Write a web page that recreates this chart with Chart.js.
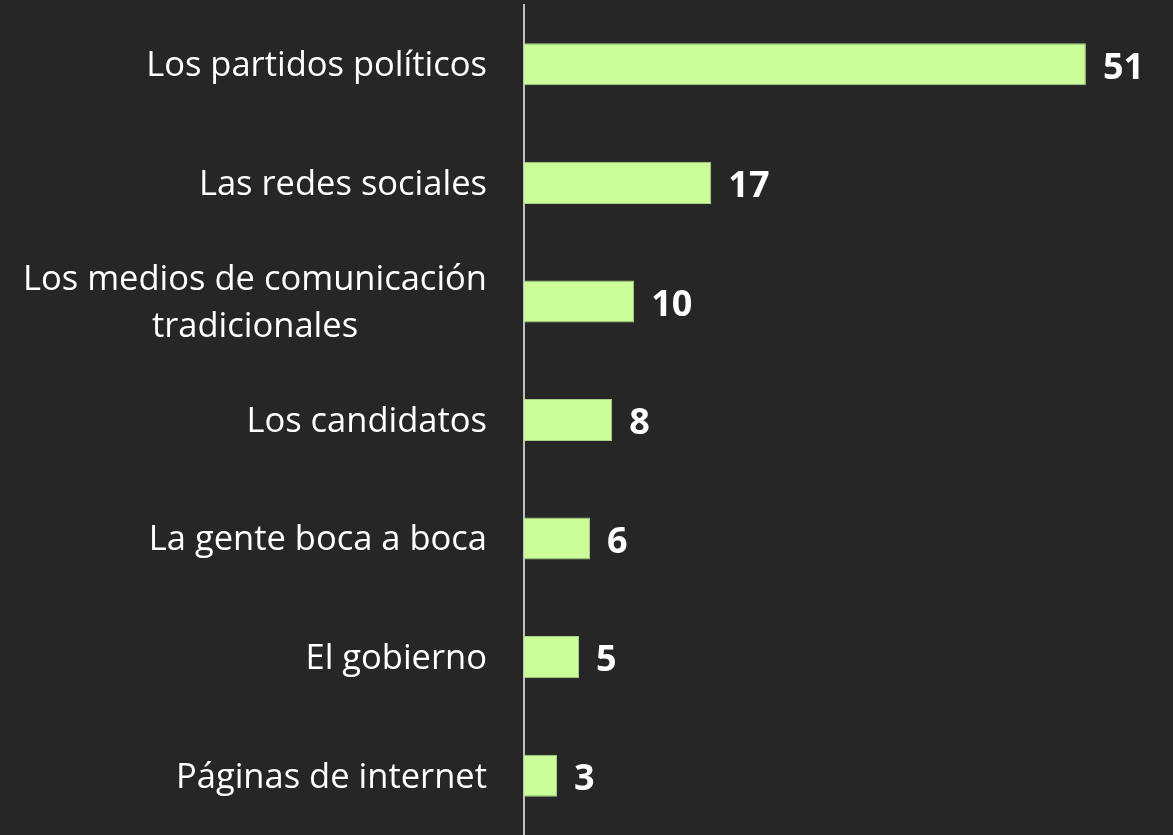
<!DOCTYPE html>
<html>
<head>
<meta charset="utf-8">
<script src="https://cdn.jsdelivr.net/npm/chart.js@4"></script>
<style>
    html, body { margin: 0; padding: 0; background: #262626; }
    #wrap { width: 1173px; height: 835px; }
</style>
</head>
<body>
<div id="wrap"><canvas id="graph"></canvas></div>
<script>
// categories (multi-line ones as arrays) and their values
const categories = [
    'Los partidos políticos',
    'Las redes sociales',
    ['Los medios de comunicación', 'tradicionales'],
    'Los candidatos',
    'La gente boca a boca',
    'El gobierno',
    'Páginas de internet'
]
const values = [51, 17, 10, 8, 6, 5, 3]

const labelFont = '34.5px "Open Sans"'
const valueFont = 'bold 36px "Open Sans"'

// draws category names (centered lines, right aligned block) and values at bar ends
const textPlugin = {
    id: 'textPlugin',
    afterDatasetsDraw(chart) {
        let ctx = chart.ctx
        let yScale = chart.scales.y
        let meta = chart.getDatasetMeta(0)
        ctx.save()
        ctx.fillStyle = '#ffffff'
        ctx.textBaseline = 'middle'

        // category labels
        ctx.font = labelFont
        ctx.textAlign = 'center'
        let rightEdge = chart.chartArea.left - 37
        let lineH = 47
        categories.forEach((cat, i) => {
            let lines = Array.isArray(cat) ? cat : [cat]
            let widest = Math.max(...lines.map(l => ctx.measureText(l).width))
            let cx = rightEdge - widest / 2
            let cy = yScale.getPixelForValue(i) + 2
            let startY = cy - (lines.length - 1) * lineH / 2
            lines.forEach((l, j) => ctx.fillText(l, cx, startY + j * lineH))
        })

        // value labels
        ctx.font = valueFont
        ctx.textAlign = 'left'
        meta.data.forEach((bar, i) => {
            ctx.fillText(values[i], bar.x + 17, bar.y + 4)
        })
        ctx.restore()
    }
}

let chart = new Chart(document.getElementById('graph'), {
    type: 'bar',
    data: {
        labels: categories,
        datasets: [{
            data: values,
            backgroundColor: '#ccff99',
            borderColor: '#a9d18e',
            borderWidth: 1,
            barPercentage: 0.355,
            categoryPercentage: 1
        }]
    },
    options: {
        indexAxis: 'y',
        responsive: true,
        maintainAspectRatio: false,
        animation: false,
        layout: {
            padding: { left: 524, right: 21, top: 5, bottom: 0 }
        },
        scales: {
            x: {
                display: false,
                min: 0,
                max: 57
            },
            y: {
                ticks: { display: false },
                grid: { display: false, drawTicks: false },
                border: { display: true, color: '#bfbfbf', width: 2 }
            }
        },
        plugins: {
            legend: { display: false },
            tooltip: { enabled: false }
        }
    },
    plugins: [textPlugin]
})
</script>
</body>
</html>
